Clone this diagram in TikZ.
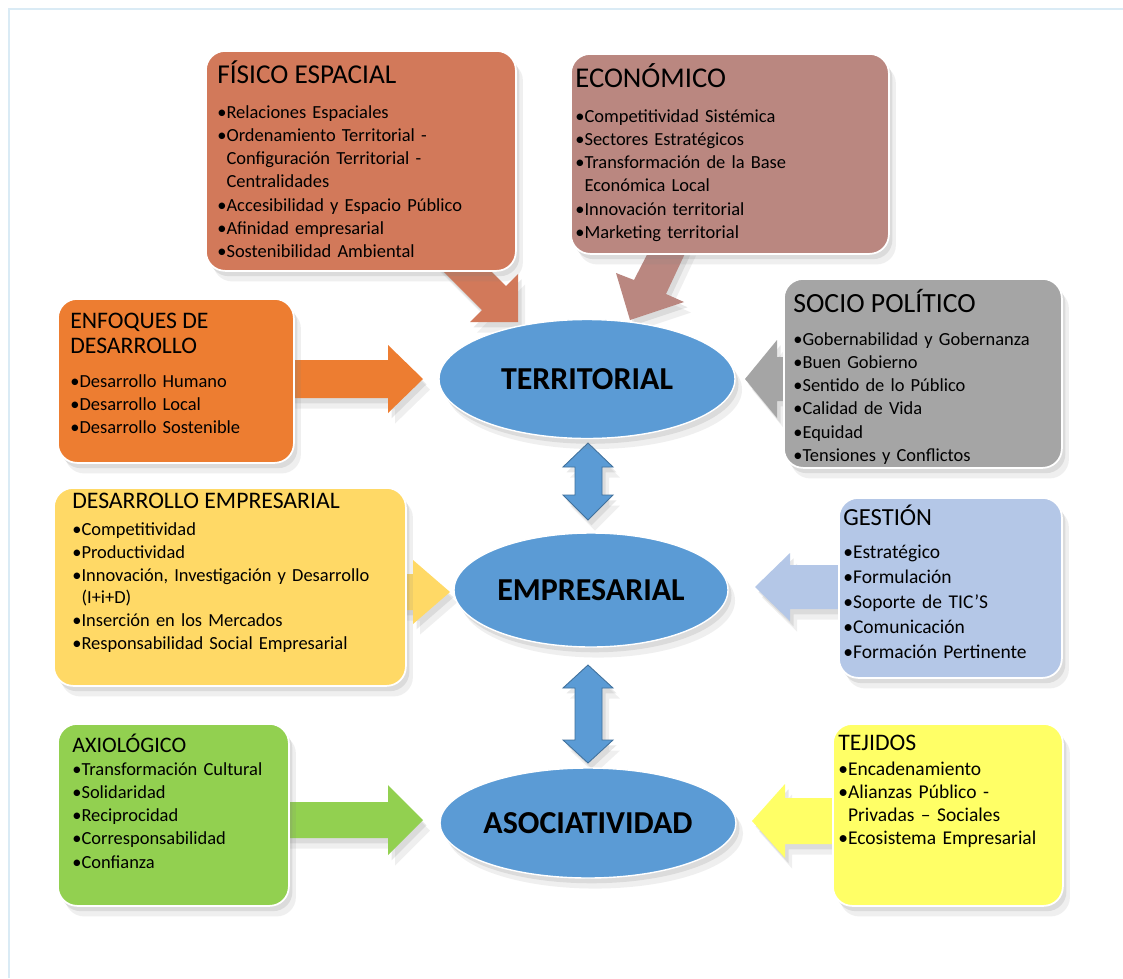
\documentclass[tikz,border=0pt]{standalone}
\usepackage{fontspec}
\setmainfont{Carlito}
\usetikzlibrary{shapes.geometric,shadows}
\definecolor{cFis}{RGB}{210,121,90}
\definecolor{cEco}{RGB}{186,135,128}
\definecolor{cEnf}{RGB}{237,125,49}
\definecolor{cSoc}{RGB}{165,165,165}
\definecolor{cDes}{RGB}{255,217,102}
\definecolor{cGes}{RGB}{180,199,231}
\definecolor{cAxi}{RGB}{146,208,80}
\definecolor{cTej}{RGB}{255,255,102}
\definecolor{cEll}{RGB}{91,155,213}
\definecolor{cEllLine}{RGB}{65,113,156}
\definecolor{cFrame}{RGB}{218,235,245}
\newcommand\fl{\rule{0pt}{10pt}}
\newcommand\ct{\hphantom{•}}
\newcommand\ifont[1]{\fontsize{10.5pt}{#1}\selectfont}
\newcommand\ifontb[2]{\fontsize{#1}{#2}\selectfont}
\newcommand\tfont[1]{\fontsize{#1}{#1}\selectfont}
\tikzset{
  softshadow/.style={drop shadow={shadow xshift=2pt,shadow yshift=-3pt,opacity=0.18},
                     drop shadow={shadow xshift=4pt,shadow yshift=-6pt,opacity=0.12}},
  box/.style={draw=white, line width=1pt, rounded corners=11pt, inner sep=0pt,
              anchor=north west, softshadow},
  ttl/.style={anchor=base west, inner sep=0pt},
  itm/.style={anchor=north west, inner sep=0pt, align=left, text width=8cm},
  ell/.style={ellipse, draw=white, line width=0.8pt, fill=cEll, inner sep=0pt,
              font=\fontsize{18.2pt}{18.2pt}\selectfont\bfseries, softshadow},
  barrow/.style={softshadow},
  darrow/.style={fill=cEll, draw=cEllLine, line width=0.5pt, softshadow}
}
\begin{document}
\begin{tikzpicture}[x=0.02cm,y=-0.02cm]
\useasboundingbox (0,0) rectangle (1123,978);
\fill[white] (0,0) rectangle (1123,978);
\draw[cFrame, line width=1.2pt] (9,978) -- (9,9) -- (1123,9);

% block arrows (behind boxes)
\fill[cFis, barrow] (454,234) -- (506,286) -- (518,274) -- (518,322) -- (470,322) -- (482,310) -- (430,258) -- cycle;
\fill[cEco, barrow] (652,245) -- (634,280) -- (616,273) -- (630,320) -- (684,302) -- (666,294) -- (689,245) -- cycle;
\fill[cEnf, barrow] (280,360) -- (388,360) -- (388,345) -- (423,379) -- (388,413) -- (388,398) -- (280,398) -- cycle;
\fill[cSoc, barrow] (795,357) -- (777,357) -- (777,340) -- (745,379) -- (777,418) -- (777,401) -- (795,401) -- cycle;
\fill[cDes, barrow] (395,574) -- (413,574) -- (413,560) -- (450,592) -- (413,624) -- (413,610) -- (395,610) -- cycle;
\fill[cGes, barrow] (850,565) -- (790,565) -- (790,553) -- (755,587) -- (790,621) -- (790,609) -- (850,609) -- cycle;
\fill[cAxi, barrow] (280,802) -- (388,802) -- (388,785) -- (423,820) -- (388,855) -- (388,838) -- (280,838) -- cycle;
\fill[cTej, barrow] (840,798) -- (785,798) -- (785,784) -- (752,821) -- (785,858) -- (785,844) -- (840,844) -- cycle;

% boxes
\node[box, fill=cFis, minimum width=310*0.02cm, minimum height=220*0.02cm] (fis) at (205,50) {};
\node[box, fill=cEco, minimum width=318*0.02cm, minimum height=200*0.02cm] (eco) at (570,53) {};
\node[box, fill=cEnf, minimum width=236*0.02cm, minimum height=164*0.02cm] (enf) at (57,298) {};
\node[box, fill=cSoc, minimum width=278*0.02cm, minimum height=189*0.02cm] (soc) at (783,278) {};
\node[box, fill=cDes, minimum width=352*0.02cm, minimum height=198*0.02cm] (des) at (53,487) {};
\node[box, fill=cGes, minimum width=223*0.02cm, minimum height=180*0.02cm] (ges) at (838,497) {};
\node[box, fill=cAxi, minimum width=231*0.02cm, minimum height=182*0.02cm] (axi) at (57,723) {};
\node[box, fill=cTej, minimum width=230*0.02cm, minimum height=182*0.02cm] (tej) at (832,723) {};

% texts
\node[ttl, font=\tfont{15.5pt}] (fis-t) at (217,83) {FÍSICO ESPACIAL};
\node[itm, font=\ifont{13.2pt}] (fis-i) at (217,100.4) {\fl•Relaciones Espaciales\\•Ordenamiento Territorial -\\\ct Configuración Territorial -\\\ct Centralidades\\•Accesibilidad y Espacio Público\\•Afinidad empresarial\\•Sostenibilidad Ambiental};

\node[ttl, font=\tfont{16.3pt}] (eco-t) at (575,87) {ECONÓMICO};
\node[itm, font=\ifont{13.2pt}] (eco-i) at (575,104.4) {\fl•Competitividad Sistémica\\•Sectores Estratégicos\\•Transformación de la Base\\\ct Económica Local\\•Innovación territorial\\•Marketing territorial};

\node[ttl, font=\tfont{13.5pt}] (enf-t1) at (70,328) {ENFOQUES DE};
\node[ttl, font=\tfont{13.5pt}] (enf-t2) at (70,353) {DESARROLLO};
\node[itm, font=\ifont{13.2pt}] (enf-i) at (70,369.4) {\fl•Desarrollo Humano\\•Desarrollo Local\\•Desarrollo Sostenible};

\node[ttl, font=\tfont{15.8pt}] (soc-t) at (793,312) {SOCIO POLÍTICO};
\node[itm, font=\ifont{13.2pt}] (soc-i) at (793,327.4) {\fl•Gobernabilidad y Gobernanza\\•Buen Gobierno\\•Sentido de lo Público\\•Calidad de Vida\\•Equidad\\•Tensiones y Conflictos};

\node[ttl, font=\tfont{13.5pt}] (des-t) at (72,508) {DESARROLLO EMPRESARIAL};
\node[itm, font=\ifont{13pt}] (des-i) at (72,517.4) {\fl•Competitividad\\•Productividad\\•Innovación, Investigación y Desarrollo\\\ct (I+i+D)\\•Inserción en los Mercados\\•Responsabilidad Social Empresarial};

\node[ttl, font=\tfont{14pt}] (ges-t) at (843,525) {GESTIÓN};
\node[itm, font=\ifontb{11.1pt}{14.2pt}] (ges-i) at (843,540.4) {\fl•Estratégico\\•Formulación\\•Soporte de TIC'S\\•Comunicación\\•Formación Pertinente};

\node[ttl, font=\tfont{12.6pt}] (axi-t) at (72,752) {AXIOLÓGICO};
\node[itm, font=\ifont{13.2pt}] (axi-i) at (72,757.4) {\fl•Transformación Cultural\\•Solidaridad\\•Reciprocidad\\•Corresponsabilidad\\•Confianza};

\node[ttl, font=\tfont{13.5pt}] (tej-t) at (838,750) {TEJIDOS};
\node[itm, font=\ifontb{11.1pt}{13.2pt}] (tej-i) at (838,757.4) {\fl•Encadenamiento\\•Alianzas Público -\\\ct Privadas – Sociales\\•Ecosistema Empresarial};

% double arrows
\draw[darrow] (575,467) -- (563,467) -- (588,443) -- (613,467) -- (602,467) -- (602,495) -- (613,495) -- (588,520) -- (563,495) -- (575,495) -- cycle;
\draw[darrow] (575,688) -- (563,688) -- (588,665) -- (613,688) -- (602,688) -- (602,740) -- (613,740) -- (588,763) -- (563,740) -- (575,740) -- cycle;

% ellipses
\node[ell, minimum width=296*0.02cm, minimum height=119*0.02cm] (terr) at (587,379) {TERRITORIAL};
\node[ell, minimum width=274*0.02cm, minimum height=114*0.02cm] (emp) at (591,590) {EMPRESARIAL};
\node[ell, minimum width=296*0.02cm, minimum height=110*0.02cm] (aso) at (588,823) {ASOCIATIVIDAD};
\end{tikzpicture}
\end{document}
